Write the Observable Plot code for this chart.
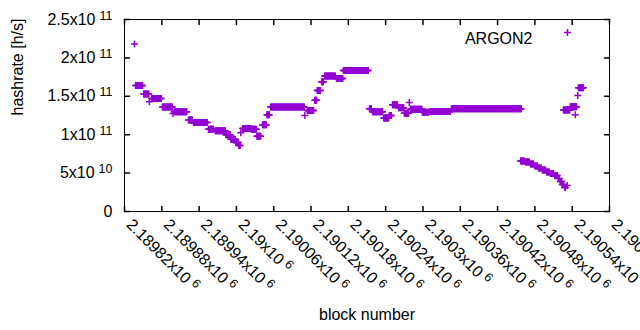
<!DOCTYPE html>
<html><head><meta charset="utf-8">
<script src="https://cdn.jsdelivr.net/npm/d3@7"></script>
<script src="https://cdn.jsdelivr.net/npm/@observablehq/plot@0.6"></script>
<style>
body{margin:0;background:#fff;}
svg{font-family:"Liberation Sans", Arial, sans-serif;}
</style></head><body><div id="chart"></div>
<script>
// runs of blocks with the same hashrate (units: 1e9 h/s)
const runStart = [2189836,2189838,2189851,2189860,2189864,2189881,2189898,2189900,2189923,2189931,2189955,2189966,2189983,2189991,2189999,2190004,2190007,2190010,2190024,2190033,2190042,2190049,2190055,2190110,2190114,2190126,2190130,2190137,2190142,2190161,2190172,2190214,2190219,2190237,2190246,2190251,2190261,2190270,2190278,2190280,2190299,2190311,2190346,
  2190457,2190465,2190473,2190480,2190486,2190492,2190499,2190505,2190512,2190518,2190521,2190524,2190528,2190532,
  2190526,2190537,2190545,2190549,2190550];
const runEnd = [2189836,2189849,2189859,2189860,2189879,2189897,2189898,2189920,2189929,2189953,2189963,2189982,2189990,2189998,2190003,2190006,2190007,2190023,2190032,2190039,2190048,2190053,2190109,2190110,2190124,2190129,2190135,2190140,2190159,2190171,2190212,2190217,2190235,2190245,2190249,2190259,2190269,2190277,2190278,2190298,2190309,2190344,2190458,
  2190463,2190471,2190478,2190484,2190490,2190497,2190503,2190510,2190516,2190519,2190523,2190526,2190529,2190532,
  2190536,2190547,2190545,2190549,2190558];
const runRate = [218,164,153,143,147,136,127.5,130,119,116,107,105,100,94,90,86,102.5,108,107,98,113,126,136,125,131.5,145,157.6,169,176.4,173.2,183.6,133.7,130,121.7,125,139,135,128,142,133,129.3,130.2,133.7,
  65.8,64.5,61.8,59.2,56.6,54,51.4,49.5,46.9,43,39,35.2,31.2,33.9,
  132,136.5,126,151,161];

const xTicks = [2189820,2189880,2189940,2190000,2190060,2190120,2190180,2190240,2190300,2190360,2190420,2190480,2190540,2190600];
const xTickLabels = ["2.18982x10^6","2.18988x10^6","2.18994x10^6","2.19x10^6","2.19006x10^6","2.19012x10^6","2.19018x10^6","2.19024x10^6","2.1903x10^6","2.19036x10^6","2.19042x10^6","2.19048x10^6","2.19054x10^6","2.1906x10^6"];
const yTicks = [0,5e10,1e11,1.5e11,2e11,2.5e11];
const yTickLabels = ["0","5x10^10","1x10^11","1.5x10^11","2x10^11","2.5x10^11"];
const seriesName = "ARGON2";
const xTitle = "block number";
const yTitle = "hashrate [h/s]";

const points = [];
runStart.forEach((s, i) => { for (let b = s; b <= runEnd[i]; b++) points.push({block: b, rate: runRate[i] * 1e9}); });

const color = "#9400d3";
const fs = 16;
const plusSym = {draw(ctx, size) { const r = Math.sqrt(size / Math.PI); ctx.moveTo(-r, 0); ctx.lineTo(r, 0); ctx.moveTo(0, -r); ctx.lineTo(0, r); }};
const tickShape = {draw(ctx, l) { ctx.moveTo(0, 0); ctx.lineTo(0, -l); }};

const plot = Plot.plot({
  width: 640, height: 330,
  marginLeft: 124, marginRight: 31, marginTop: 19, marginBottom: 119,
  x: {domain: [2189820, 2190600], axis: null},
  y: {domain: [0, 2.5e11], axis: null},
  style: {fontFamily: '"Liberation Sans", Arial, sans-serif', fontSize: "16px", color: "#000", background: "#fff"},
  marks: [
    Plot.dot(points, {x: "block", y: "rate", symbol: plusSym, r: 3.5, stroke: color, fill: "none", strokeWidth: 1.5}),
    Plot.frame({stroke: "#000", strokeWidth: 1}),
    Plot.vector(xTicks, {x: d => d, frameAnchor: "bottom", length: 5, rotate: 0, anchor: "start", shape: tickShape, stroke: "#000"}),
    Plot.vector(xTicks, {x: d => d, frameAnchor: "top", length: 5, rotate: 180, anchor: "start", shape: tickShape, stroke: "#000"}),
    Plot.vector(yTicks, {y: d => d, frameAnchor: "left", length: 5, rotate: 90, anchor: "start", shape: tickShape, stroke: "#000"}),
    Plot.vector(yTicks, {y: d => d, frameAnchor: "right", length: 5, rotate: -90, anchor: "start", shape: tickShape, stroke: "#000"}),
    Plot.text(xTicks, {x: d => d, frameAnchor: "bottom", text: (d, i) => xTickLabels[i], rotate: 45, textAnchor: "start", dx: 1, dy: 14, className: "xtl", fill: "#000", fontSize: fs}),
    Plot.text(yTicks, {y: d => d, frameAnchor: "left", text: (d, i) => yTickLabels[i], textAnchor: "end", dx: -12, className: "ytl", fill: "#000", fontSize: fs}),
    Plot.text([yTitle], {frameAnchor: "left", text: d => d, rotate: -90, dx: -107, fill: "#000", fontSize: fs}),
    Plot.text([xTitle], {frameAnchor: "bottom", text: d => d, dy: 108, fill: "#000", fontSize: fs}),
    Plot.text([seriesName], {frameAnchor: "top-right", text: d => d, textAnchor: "end", dx: -77, dy: 13, fill: "#000", fontSize: fs}),
    Plot.dot([seriesName], {frameAnchor: "top-right", dx: -42, dy: 13, symbol: plusSym, r: 3.5, stroke: color, fill: "none", strokeWidth: 1.5})
  ]
});

d3.select(plot).selectAll(".xtl text, .ytl text").each(function () {
  const s = this.textContent; const k = s.indexOf("^");
  if (k < 0) return;
  this.textContent = "";
  const t = d3.select(this);
  t.append("tspan").text(s.slice(0, k));
  t.append("tspan").attr("dx", 4).attr("dy", -5).attr("font-size", 12.5).text(s.slice(k + 1));
});
document.getElementById("chart").appendChild(plot);
</script></body></html>
